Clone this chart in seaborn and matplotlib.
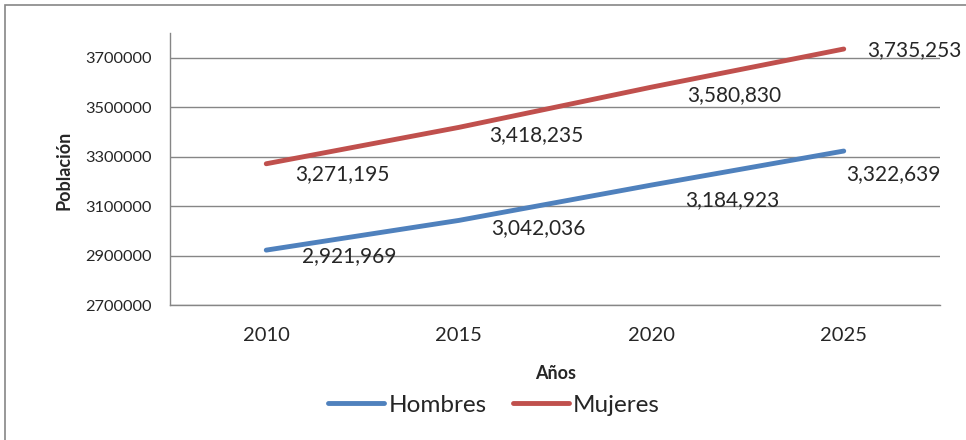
import pandas as pd
import matplotlib.pyplot as plt
import seaborn as sns
from matplotlib.patches import Rectangle

# datos
anios = [2010, 2015, 2020, 2025]
hombres = [2921969, 3042036, 3184923, 3322639]
mujeres = [3271195, 3418235, 3580830, 3735253]
series = ['Hombres', 'Mujeres']
colores = ['#4F81BD', '#C0504D']
yticks = [2700000, 2900000, 3100000, 3300000, 3500000, 3700000]

df = pd.DataFrame({
    'Años': anios * 2,
    'Población': hombres + mujeres,
    'Serie': ['Hombres'] * 4 + ['Mujeres'] * 4,
})

sns.set_style("white")
plt.rcParams['font.family'] = ['Lato', 'DejaVu Sans']

fig = plt.figure(figsize=(9.66, 4.4), dpi=100)
ax = fig.add_axes([170 / 966, 1 - 305 / 440, 770 / 966, 272 / 440])

# borde del área del gráfico
fig.patches.append(Rectangle((5 / 966, -0.1), 1.2, 1.1 - 5.5 / 440,
                             transform=fig.transFigure, fill=False,
                             edgecolor='#868686', linewidth=1.2))

sns.lineplot(data=df, x='Años', y='Población', hue='Serie', palette=colores,
             linewidth=3.5, solid_capstyle='round', ax=ax, zorder=3)

ax.set_xlim(2007.5, 2027.5)
ax.set_ylim(2700000, 3800000)
ax.set_yticks(yticks)
ax.set_yticklabels([str(v) for v in yticks], fontsize=11.8)
ax.yaxis.grid(True, color='#868686', linewidth=1)
ax.xaxis.grid(False)

# eje de categorías: marcas entre categorías
ax.set_xticks([2007.5, 2012.5, 2017.5, 2022.5, 2027.5])
ax.set_xticklabels([])
ax.set_xticks(anios, minor=True)
ax.set_xticklabels([str(a) for a in anios], minor=True, fontsize=14.5)
ax.tick_params(axis='x', which='major', length=8, width=1, color='#868686', direction='out')
ax.tick_params(axis='x', which='minor', length=0, pad=16)
ax.tick_params(axis='y', length=7, width=1, color='#868686', direction='out', pad=6)

for s in ['top', 'right']:
    ax.spines[s].set_visible(False)
for s in ['left', 'bottom']:
    ax.spines[s].set_color('#868686')
    ax.spines[s].set_linewidth(1)

ax.set_ylabel('Población', fontsize=13, fontweight='bold')
ax.yaxis.set_label_coords(-0.127, 0.496)
ax.set_xlabel('Años', fontsize=13, fontweight='bold')
ax.xaxis.set_label_coords(0.501, -0.222)

# etiquetas de datos
offs_h = [(36, -6), (32, -8), (34, -15), (2, -23)]
offs_m = [(29, -10), (30, -8), (36, -8), (23, -1)]
for vals, offs in [(hombres, offs_h), (mujeres, offs_m)]:
    for a, v, o in zip(anios, vals, offs):
        ax.annotate(f'{v:,}', (a, v), xytext=o, textcoords='offset pixels',
                    ha='left', va='center', fontsize=15, zorder=4,
                    annotation_clip=False)

handles, labels = ax.get_legend_handles_labels()
ax.get_legend().remove()
fig.legend(handles, labels, loc='center', bbox_to_anchor=(494 / 966, 1 - 405 / 440),
           ncol=2, frameon=False, fontsize=17.5, handlelength=2.3,
           handletextpad=0.17, columnspacing=1.07)

plt.savefig('out.png', dpi=100)
